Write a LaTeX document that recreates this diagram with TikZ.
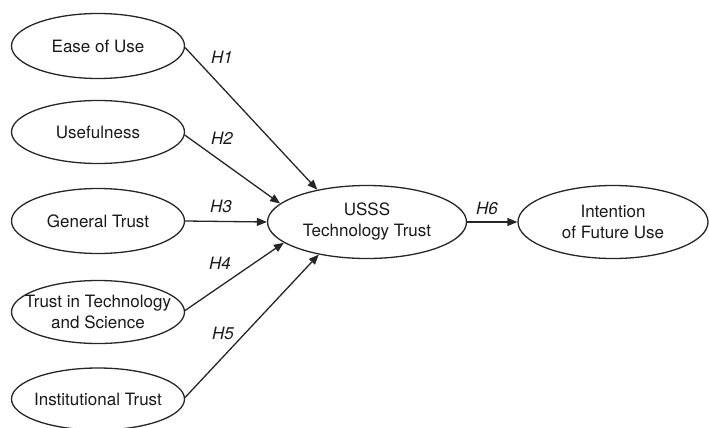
\documentclass[tikz,border=0pt]{standalone}
\usepackage{fontspec}
\setmainfont{TeX Gyre Heros}
\usetikzlibrary{shapes.geometric,arrows.meta}

\begin{document}
\begin{tikzpicture}[x=1pt,y=-1pt,
    construct/.style={ellipse,draw=black!85,line width=1.3pt,inner xsep=-15pt,inner ysep=0pt,
        align=center,text=black!90,font=\fontsize{17}{21}\selectfont},
    hyp/.style={text=black!90,font=\fontsize{17}{21}\selectfont\itshape},
    path/.style={-{Triangle[length=10pt,width=8pt]},draw=black!85,line width=1.3pt}]
    \useasboundingbox (0,0) rectangle (709,428);
    %\draw[very thin,color=gray] (0,0) grid[step=50] (709,428);
    % antecedents
    \node[construct,minimum width=173pt,minimum height=65pt] (ease) at (98,46) {Ease of Use};
    \node[construct,minimum width=173pt,minimum height=63pt] (useful) at (98,132) {Usefulness};
    \node[construct,minimum width=173pt,minimum height=65pt] (general) at (98,221) {General Trust};
    \node[construct,minimum width=173pt,minimum height=63pt] (techsci) at (98,312) {Trust in Technology\\and Science};
    \node[construct,minimum width=173pt,minimum height=62pt] (inst) at (98,399) {Institutional Trust};
    % outcomes
    \node[construct,minimum width=199pt,minimum height=73pt] (usss) at (367,222) {USSS\\Technology Trust};
    \node[construct,minimum width=190pt,minimum height=73pt] (intent) at (613,222) {Intention\\of Future Use};
    % hypotheses
    \draw[path] (ease.-1) -- (usss.147);
    \draw[path] (useful.-2) -- (usss.168);
    \draw[path] (general.east) -- (usss.west);
    \draw[path] (techsci.1) -- (usss.-166);
    \draw[path] (inst.1) -- (usss.-146);
    \draw[path] (usss.east) -- (intent.west);
    \node[hyp] (h1) at (222,57) {H1};
    \node[hyp] (h2) at (222,138) {H2};
    \node[hyp] (h3) at (221,206) {H3};
    \node[hyp] (h4) at (220,263) {H4};
    \node[hyp] (h5) at (223,333) {H5};
    \node[hyp] (h6) at (487,208) {H6};
\end{tikzpicture}
\end{document}
